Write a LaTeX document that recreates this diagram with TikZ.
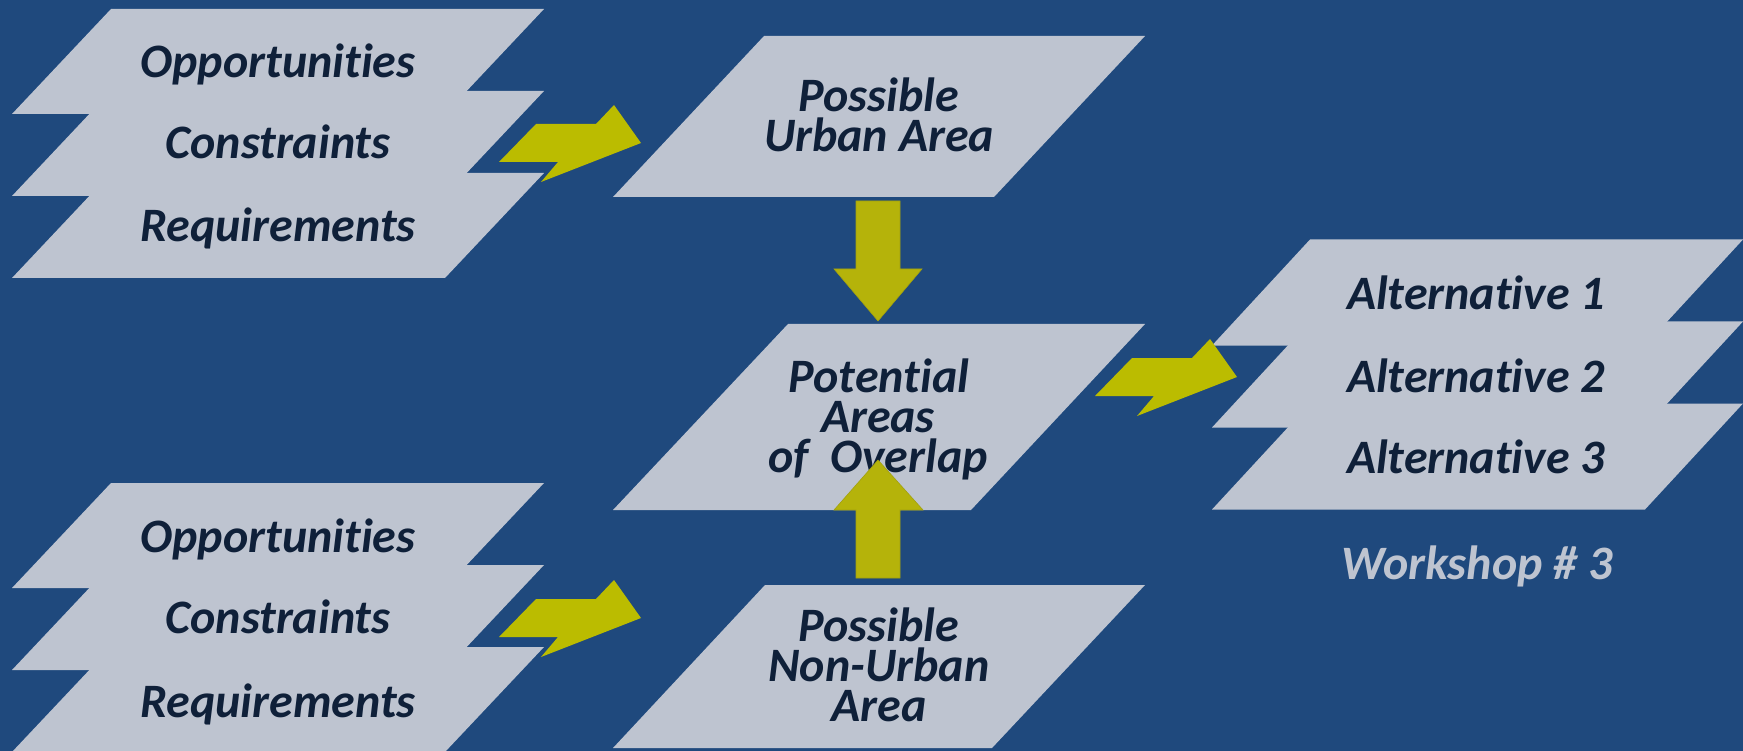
\documentclass[tikz,border=0pt]{standalone}
\usepackage{fontspec}
\setmainfont{Carlito}[Ligatures={NoCommon}]
\definecolor{bgblue}{HTML}{1F497D}
\definecolor{sheetc}{HTML}{BEC4D0}
\definecolor{ink}{HTML}{0F2039}
\definecolor{boltc}{HTML}{BBBC00}
\definecolor{vertc}{HTML}{B5B30A}
\definecolor{vertedge}{HTML}{A3A10E}
\tikzset{
  sheet/.style={fill=sheetc},
  lbl/.style={text=ink, font=\fontsize{48}{40}\selectfont\bfseries\itshape,
              anchor=base, inner sep=0pt},
  note/.style={lbl, text=sheetc},
  vertarrow/.style={fill=vertc, draw=vertedge, line width=0.6pt},
  boltarrow/.pic={
    \fill[boltc] (0,0) -- (37,-38) -- (97,-38) -- (115,-57) -- (142,-19)
                 -- (42,20) -- (59,0) -- cycle;
  }
}
\begin{document}
\begin{tikzpicture}[x=1pt,y=-1pt]
  \fill[bgblue] (0,0) rectangle (1743,751);
  \useasboundingbox (0,0) rectangle (1743,751);

  % stacked sheets, upper left
  \foreach \t in {9,91,173}
    \fill[sheet] (12,\t+105) -- (111,\t) -- (544,\t) -- (445,\t+105) -- cycle;
  % stacked sheets, lower left
  \foreach \t in {483,565,647}
    \fill[sheet] (12,\t+105) -- (111,\t) -- (544,\t) -- (445,\t+105) -- cycle;
  % stacked sheets, right
  \foreach \t in {239.5,321.5,403.5}
    \fill[sheet] (1212,\t+106) -- (1310,\t) -- (1743,\t) -- (1645,\t+106) -- cycle;

  % middle column
  \fill[sheet] (613,197) -- (764,36) -- (1145,36) -- (994,197) -- cycle;
  \fill[sheet] (613,510) -- (788,324) -- (1145,324) -- (971,510) -- cycle;
  \fill[sheet] (613,748) -- (765,585) -- (1145,585) -- (992,748) -- cycle;

  % labels
  \node[lbl] (opp1) at (278,78)  {Opportunities};
  \node[lbl] (con1) at (278,159) {Constraints};
  \node[lbl] (req1) at (278,242) {Requirements};
  \node[lbl] (opp2) at (278,552) {Opportunities};
  \node[lbl] (con2) at (278,633) {Constraints};
  \node[lbl] (req2) at (278,717) {Requirements};

  \node[lbl] (pu1) at (879,112) {Possible};
  \node[lbl] (pu2) at (879,152) {Urban Area};

  \node[lbl] (po1) at (879,392) {Potential};
  \node[lbl] (po2) at (878,432) {Areas};
  \node[lbl] (po3) at (878,472) {of\ \ Overlap};

  \node[lbl] (pn1) at (879,641) {Possible};
  \node[lbl] (pn2) at (879,681) {Non-Urban};
  \node[lbl] (pn3) at (879,721) {Area};

  \node[lbl] (alt1) at (1476,309) {Alternative 1};
  \node[lbl] (alt2) at (1476,392) {Alternative 2};
  \node[lbl] (alt3) at (1476,473) {Alternative 3};

  \node[note] (ws) at (1477,579) {Workshop \# 3};

  % bolt arrows between stages
  \pic at (499,162) {boltarrow};
  \pic at (499,637) {boltarrow};
  \pic at (1095,396) {boltarrow};

  % vertical block arrows
  \filldraw[vertarrow] (856,201) -- (900,201) -- (900,269) -- (922,269)
      -- (878,321) -- (834,269) -- (856,269) -- cycle;
  \filldraw[vertarrow] (856,578) -- (900,578) -- (900,510) -- (923,510)
      -- (878,460) -- (834,510) -- (856,510) -- cycle;
\end{tikzpicture}
\end{document}
